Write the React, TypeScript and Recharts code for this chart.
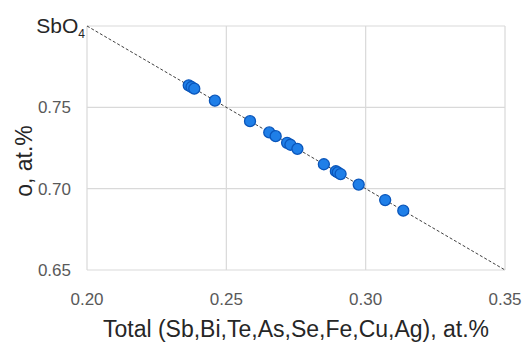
import React from 'react';
import {
  ScatterChart,
  Scatter,
  XAxis,
  YAxis,
  CartesianGrid,
  ReferenceLine
} from 'recharts';

// Total (Sb,Bi,Te,As,Se,Fe,Cu,Ag), at.%
const totalValues = [
  0.2365, 0.2375, 0.2385, 0.2459, 0.2585, 0.2654, 0.2677, 0.2718, 0.273,
  0.2755, 0.285, 0.2893, 0.29, 0.291, 0.2975, 0.307, 0.3135
];
// o, at.%
const oxygenValues = [
  0.7635, 0.7625, 0.7615, 0.7541, 0.7415, 0.7346, 0.7323, 0.7282, 0.727,
  0.7245, 0.715, 0.7107, 0.71, 0.709, 0.7025, 0.693, 0.6865
];
const xTicks = [0.2, 0.25, 0.3, 0.35];
const yTicks = [0.65, 0.7, 0.75, 0.8];
// SbO4 ideal line: x + y = 1
const idealLine = [
  { x: 0.2, y: 0.8 },
  { x: 0.35, y: 0.65 }
];

const points = totalValues.map((x, i) => ({ x, y: oxygenValues[i] }));

const FONT = '"Liberation Sans", Arial, sans-serif';

const YTick = (props: any) => {
  const { x, y, payload } = props;
  if (payload.value === 0.8) {
    return (
      <text x={x + 14} y={y} dy={7} textAnchor="end" fontSize={21} fill="#262626" fontFamily={FONT}>
        SbO
        <tspan fontSize={12} dy={5}>4</tspan>
      </text>
    );
  }
  return (
    <text x={x} y={y} dy={6} textAnchor="end" fontSize={17} fill="#595959" fontFamily={FONT}>
      {payload.value.toFixed(2)}
    </text>
  );
};

const XTick = (props: any) => {
  const { x, y, payload } = props;
  return (
    <text x={x} y={y} dy={19} textAnchor="middle" fontSize={17} fill="#595959" fontFamily={FONT}>
      {payload.value.toFixed(2)}
    </text>
  );
};

const Dot = (props: any) => (
  <circle cx={props.cx} cy={props.cy} r={5.5} fill="#1f7fe8" stroke="#0a56bb" strokeWidth={1.3} />
);

const YTitle = (props: any) => {
  const { x, y, height } = props.viewBox;
  const cx = x + 24;
  const cy = y + height / 2 + 13;
  return (
    <text x={cx} y={cy} transform={`rotate(-90, ${cx}, ${cy})`} textAnchor="middle" dominantBaseline="central"
      fontSize={23} fill="#262626" fontFamily={FONT}>
      o, at.%
    </text>
  );
};

const XTitle = (props: any) => {
  const { x, y, width } = props.viewBox;
  return (
    <text x={x + width / 2} y={y + 59} textAnchor="middle" dominantBaseline="central"
      fontSize={23} fill="#262626" fontFamily={FONT}>
      Total (Sb,Bi,Te,As,Se,Fe,Cu,Ag), at.%
    </text>
  );
};

const App: React.FC = () => (
  <div style={{ position: 'absolute', left: 0, top: 0, width: 525, height: 343, background: '#fff' }}>
    <ScatterChart width={525} height={343} margin={{ top: 26, right: 20, bottom: 0, left: 0 }}>
      <CartesianGrid stroke="#d9d9d9" strokeWidth={1.2} />
      <XAxis
        type="number"
        dataKey="x"
        domain={[0.2, 0.35]}
        ticks={xTicks}
        height={73}
        axisLine={false}
        tickLine={false}
        tickSize={0}
        tickMargin={16}
        tick={<XTick />}
        interval={0}
        label={<XTitle />}
      />
      <YAxis
        type="number"
        dataKey="y"
        domain={[0.65, 0.8]}
        ticks={yTicks}
        width={87}
        axisLine={false}
        tickLine={false}
        tickSize={0}
        tickMargin={16}
        tick={<YTick />}
        interval={0}
        label={<YTitle />}
      />
      <ReferenceLine segment={idealLine} stroke="#404040" strokeDasharray="3 2" strokeWidth={1} />
      <Scatter data={points} shape={<Dot />} isAnimationActive={false} />
    </ScatterChart>
  </div>
);

export default App;
